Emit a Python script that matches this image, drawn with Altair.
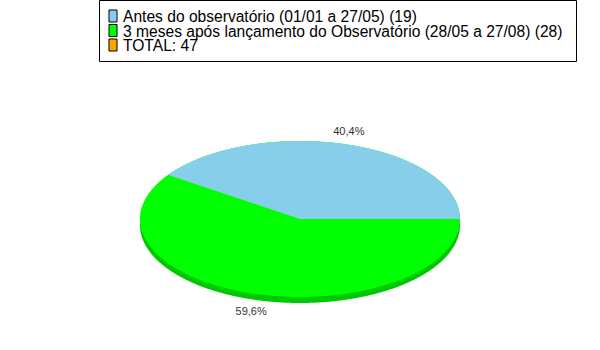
import math
import numpy as np
import pandas as pd
import altair as alt

# ---- data ----
categories = [
    "Antes do observatório (01/01 a 27/05) (19)",
    "3 meses após lançamento do Observatório (28/05 a 27/08) (28)",
    "TOTAL: 47",
]
values = [19, 28]
colors = ["#87CEEB", "#00FF00", "#FFA500"]
pct_labels = ["40,4%", "59,6%"]
side_color = "#00C800"

# ---- geometry derived from the values (unit ellipse, squashed by the y scale) ----
total = sum(values)
a = 2 * math.pi * values[0] / total          # end angle of first slice (counter-clockwise from east)
depth = 6 / 78                               # thickness of the 3D side, in y-units

t_full = np.linspace(0, math.pi, 600)
ell = pd.DataFrame({"u": np.cos(t_full), "top": np.sin(t_full), "bot": -np.sin(t_full)})
side = ell.copy()
side["top"] = side["top"] - depth
side["bot"] = side["bot"] - depth

t_b = np.linspace(0, a, 600)
blue = pd.DataFrame({
    "u": np.cos(t_b),
    "top": np.sin(t_b),
    "bot": np.maximum(0, np.cos(t_b) * math.tan(a)),
})

mids = [a / 2, a + (2 * math.pi - a) / 2]
lab = pd.DataFrame({
    "u": [math.cos(m) * 1.03 for m in mids],
    "v": [math.sin(m) * 1.17 - (depth if math.sin(m) < 0 else 0) for m in mids],
    "label": pct_labels,
})

leg = pd.DataFrame({"row": list(range(len(categories))), "label": categories})

# ---- scales ----
xs = alt.Scale(domain=[-300 / 160, 300 / 160], nice=False, zero=False)
ys = alt.Scale(domain=[-(350 - 219) / 78, 219 / 78], nice=False, zero=False)
row_scale = alt.Scale(domain=[-16 / 14.5, (350 - 16) / 14.5], reverse=True, nice=False, zero=False)
color_scale = alt.Scale(domain=categories, range=colors)

side_layer = alt.Chart(side).mark_area(color=side_color, interpolate="linear").encode(
    x=alt.X("u:Q", scale=xs, axis=None),
    y=alt.Y("top:Q", scale=ys, axis=None),
    y2="bot:Q",
)

green_layer = alt.Chart(ell).mark_area(color=colors[1], interpolate="linear").encode(
    x=alt.X("u:Q", scale=xs, axis=None),
    y=alt.Y("top:Q", scale=ys, axis=None),
    y2="bot:Q",
)

blue_layer = alt.Chart(blue).mark_area(color=colors[0], interpolate="linear").encode(
    x=alt.X("u:Q", scale=xs, axis=None),
    y=alt.Y("top:Q", scale=ys, axis=None),
    y2="bot:Q",
)

text_layer = alt.Chart(lab).mark_text(
    font="Liberation Sans", fontSize=11, color="#333333", align="center", baseline="middle"
).encode(
    x=alt.X("u:Q", scale=xs, axis=None),
    y=alt.Y("v:Q", scale=ys, axis=None),
    text="label:N",
)

# ---- legend (box, swatches, labels) ----
box = alt.Chart(pd.DataFrame({"k": [0]})).mark_rect(
    fill="white", stroke="black", strokeWidth=1
).encode(
    x=alt.value(99.5), x2=alt.value(576.5), y=alt.value(0.5), y2=alt.value(61.5)
)

swatches = alt.Chart(leg).mark_point(
    shape="M-0.67,-1H0.67V1H-0.67Z", size=144, filled=True, opacity=1,
    stroke="black", strokeWidth=1
).encode(
    x=alt.value(113),
    y=alt.Y("row:Q", scale=row_scale, axis=None),
    fill=alt.Fill("label:N", scale=color_scale, legend=None),
)

leg_text = alt.Chart(leg).mark_text(
    font="Liberation Sans", fontSize=15.6, color="black", align="left", baseline="middle", dy=1
).encode(
    x=alt.value(123),
    y=alt.Y("row:Q", scale=row_scale, axis=None),
    text="label:N",
)

chart = alt.layer(
    side_layer, green_layer, blue_layer, text_layer, box, swatches, leg_text
).resolve_scale(y="independent").properties(
    width=600, height=350, padding=0,
    autosize=alt.AutoSizeParams(type="none"),
    background="white",
).configure_view(stroke=None)

chart.save("out.html", embed_options={"renderer": "svg", "actions": False})
